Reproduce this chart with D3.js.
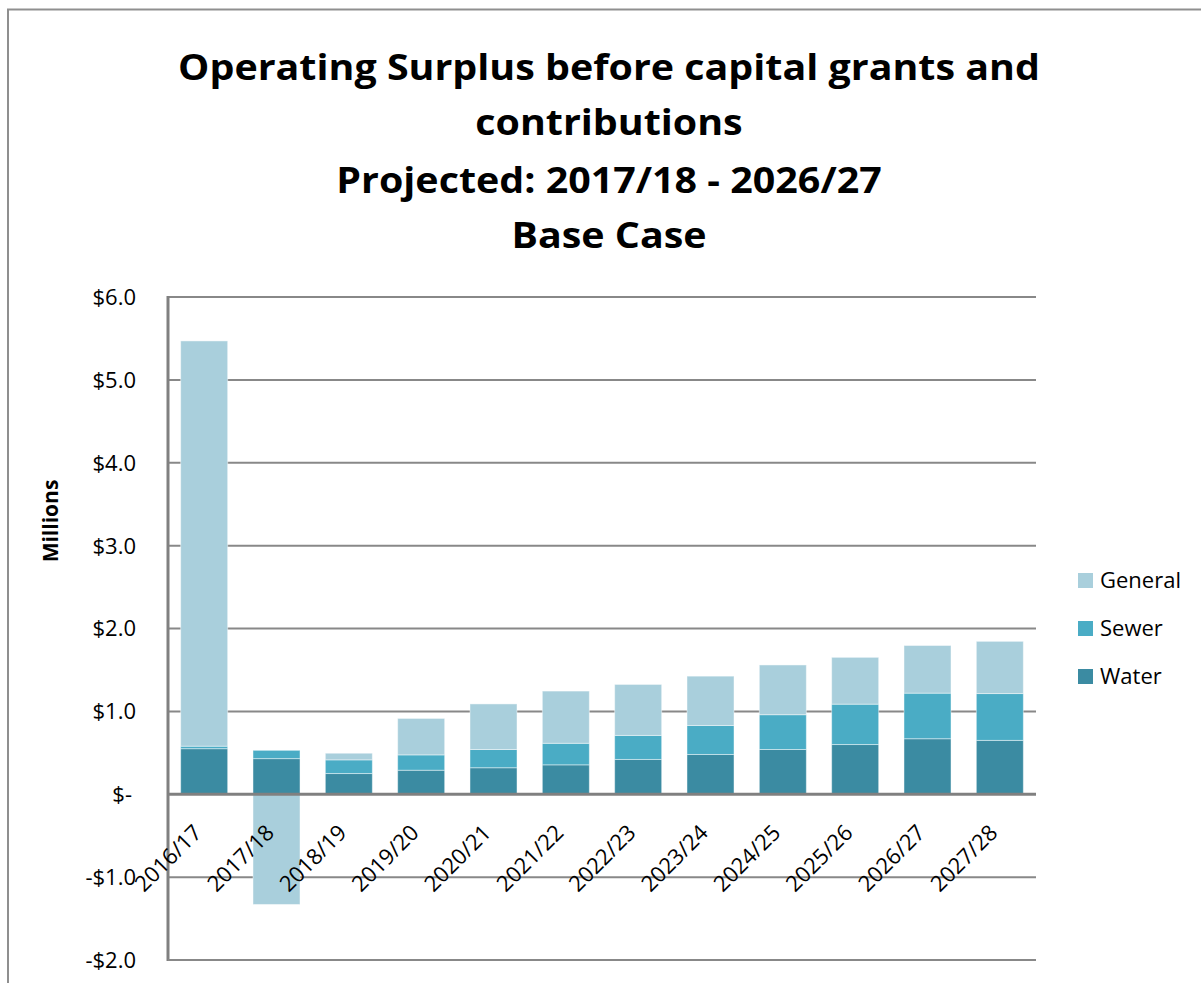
<!DOCTYPE html>
<html>
<head>
<meta charset="utf-8">
<script src="https://cdn.jsdelivr.net/npm/d3@7"></script>
<style>
  html, body { margin: 0; padding: 0; background: #fff; }
  svg { display: block; }
  text { font-family: "Open Sans", "Noto Sans", sans-serif; fill: #000; }
</style>
</head>
<body>
<svg id="chart" width="1201" height="983"></svg>
<script>
// Operating surplus by fund, $ millions
const categories = ["2016/17","2017/18","2018/19","2019/20","2020/21","2021/22",
                    "2022/23","2023/24","2024/25","2025/26","2026/27","2027/28"];
const water   = [0.55, 0.43, 0.25, 0.29, 0.32, 0.355, 0.42, 0.48, 0.54, 0.60, 0.67, 0.65];
const sewer   = [0.03, 0.10, 0.165, 0.185, 0.22, 0.26, 0.29, 0.35, 0.42, 0.487, 0.55, 0.565];
const general = [4.89, -1.33, 0.08, 0.44, 0.55, 0.63, 0.615, 0.595, 0.60, 0.565, 0.575, 0.63];
const seriesNames = ["Water", "Sewer", "General"];
const yTicks = [-2, -1, 0, 1, 2, 3, 4, 5, 6];
const titleLines = ["Operating Surplus before capital grants and", "contributions",
                    "Projected: 2017/18 - 2026/27", "Base Case"];

const colors = { General: "#a9cfdc", Sewer: "#4aacc5", Water: "#3b8ba2" };

const svg = d3.select("#chart");

// outer chart frame
svg.append("path")
  .attr("d", "M8,990 L8,9.5 L1210,9.5")
  .attr("fill", "none").attr("stroke", "#8f8f8f").attr("stroke-width", 2);

const plot = { left: 168, right: 1036, top: 297, bottom: 960 };

const x = d3.scaleBand().domain(categories)
  .range([plot.left, plot.right]).paddingInner(0.35).paddingOuter(0.175);
const y = d3.scaleLinear().domain([-2, 6]).range([plot.bottom, plot.top]);

// gridlines
svg.append("g").selectAll("line").data(yTicks.filter(t => t !== 0)).join("line")
  .attr("x1", plot.left).attr("x2", plot.right)
  .attr("y1", d => y(d)).attr("y2", d => y(d))
  .attr("stroke", "#888").attr("stroke-width", 2);

// stacked bars
const rows = categories.map((c, i) => ({ cat: c, Water: water[i], Sewer: sewer[i], General: general[i] }));
const stack = d3.stack().keys(seriesNames).offset(d3.stackOffsetDiverging);
const layers = stack(rows);

svg.append("g").selectAll("g").data(layers).join("g")
  .attr("fill", d => colors[d.key])
  .selectAll("rect").data(d => d).join("rect")
  .attr("x", d => x(d.data.cat))
  .attr("width", x.bandwidth())
  .attr("y", d => y(Math.max(d[0], d[1])))
  .attr("height", d => Math.abs(y(d[0]) - y(d[1])))
  .attr("stroke", "rgba(255,255,255,0.45)").attr("stroke-width", 1);

// zero line
svg.append("line")
  .attr("x1", plot.left).attr("x2", plot.right)
  .attr("y1", y(0)).attr("y2", y(0))
  .attr("stroke", "#808080").attr("stroke-width", 3);

// left axis line
svg.append("line")
  .attr("x1", plot.left).attr("x2", plot.left)
  .attr("y1", plot.top - 1).attr("y2", plot.bottom + 1)
  .attr("stroke", "#808080").attr("stroke-width", 3);

// y-axis tick labels
const fmt = v => v === 0 ? "$-" : (v < 0 ? "-$" : "$") + Math.abs(v).toFixed(1);
svg.append("g").selectAll("text").data(yTicks).join("text")
  .attr("x", d => d === 0 ? 132 : 136)
  .attr("y", d => y(d))
  .attr("dy", "0.36em")
  .attr("text-anchor", "end")
  .attr("font-size", 22)
  .text(fmt);

// y-axis title
svg.append("text")
  .attr("transform", "translate(58,521) rotate(-90)")
  .attr("text-anchor", "middle")
  .attr("font-size", 21).attr("font-weight", "bold")
  .text("Millions");

// category labels, rotated
svg.append("g").selectAll("text").data(categories).join("text")
  .attr("transform", d => `translate(${x(d) + x.bandwidth() / 2 - 1},834) rotate(-45)`)
  .attr("text-anchor", "end")
  .attr("font-size", 22)
  .text(d => d);

// title
const titleBaselines = [80, 135, 193, 248];
const tg = svg.append("g").attr("font-weight", "bold").attr("font-size", 36);
const tt = tg.selectAll("text").data(titleLines).join("text")
  .attr("x", 0).attr("y", (d, i) => titleBaselines[i])
  .attr("text-anchor", "middle")
  .text(d => d);
const w0 = tt.node().getComputedTextLength();
const sx = 862 / w0;
tg.attr("transform", `translate(609,0) scale(${sx},1)`);

// legend
const legendOrder = ["General", "Sewer", "Water"];
const lg = svg.append("g").selectAll("g").data(legendOrder).join("g")
  .attr("transform", (d, i) => `translate(1078,${573 + i * 48})`);
lg.append("rect").attr("width", 15).attr("height", 15).attr("fill", d => colors[d]);
lg.append("text").attr("x", 22).attr("y", 7.5).attr("dy", "0.36em")
  .attr("font-size", 22).text(d => d);

// plot bottom border
svg.append("line")
  .attr("x1", plot.left).attr("x2", plot.right)
  .attr("y1", plot.bottom).attr("y2", plot.bottom)
  .attr("stroke", "#888").attr("stroke-width", 2);
</script>
</body>
</html>
